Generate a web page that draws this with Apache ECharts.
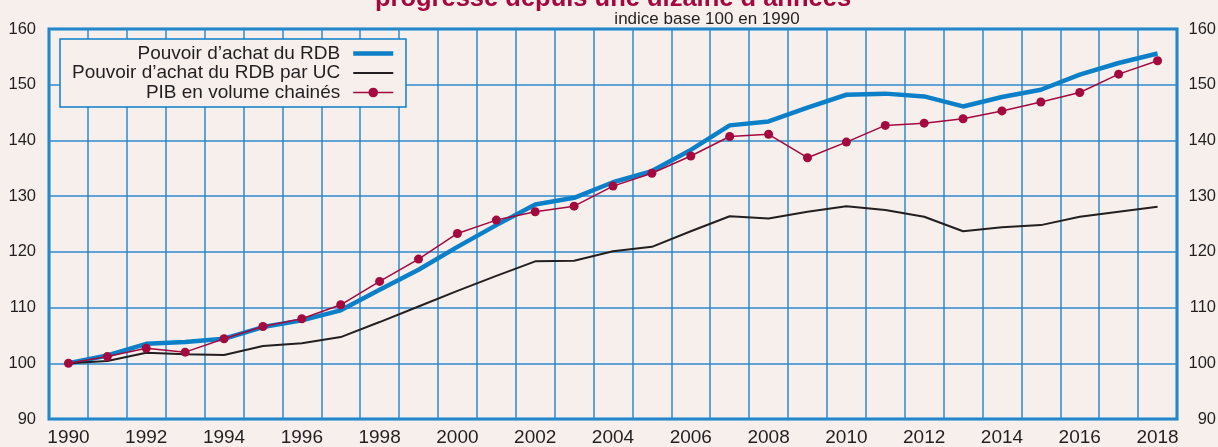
<!DOCTYPE html>
<html><head><meta charset="utf-8">
<script src="https://cdn.jsdelivr.net/npm/echarts@6/dist/echarts.min.js"></script>
<style>html,body{margin:0;padding:0;background:#f6efec}#c{width:1218px;height:447px}</style>
</head><body><div id="c"></div>
<script>
const years = ['1990','1991','1992','1993','1994','1995','1996','1997','1998','1999','2000','2001','2002','2003','2004','2005','2006','2007','2008','2009','2010','2011','2012','2013','2014','2015','2016','2017','2018'];
const rdb = [100, 101.4, 103.5, 103.8, 104.4, 106.5, 107.7, 109.5, 113.2, 116.8, 120.9, 124.8, 128.5, 129.7, 132.5, 134.5, 138.3, 142.7, 143.4, 145.9, 148.2, 148.4, 147.9, 146.1, 147.8, 149.1, 151.8, 153.9, 155.6];
const rdbUc = [100, 100.4, 101.9, 101.6, 101.5, 103.1, 103.6, 104.7, 107.4, 110.2, 113.0, 115.7, 118.3, 118.4, 120.1, 120.9, 123.7, 126.4, 126.0, 127.2, 128.2, 127.5, 126.3, 123.7, 124.4, 124.8, 126.3, 127.2, 128.1];
const pib = [100, 101.2, 102.7, 102.0, 104.4, 106.6, 108.0, 110.5, 114.7, 118.7, 123.3, 125.7, 127.2, 128.2, 131.8, 134.1, 137.2, 140.7, 141.1, 136.9, 139.7, 142.7, 143.1, 143.9, 145.3, 146.9, 148.6, 151.9, 154.3];
const seriesNames = ['Pouvoir d\u2019achat du RDB', 'Pouvoir d\u2019achat du RDB par UC', 'PIB en volume chain\u00e9s'];
const titleText = 'progresse depuis une dizaine d\u2019ann\u00e9es';
const subtitleText = 'indice base 100 en 1990';
const yMin = 90, yMax = 160, yStep = 10;

const FONT = '"Liberation Sans", Arial, Helvetica, sans-serif';
const BG = '#f6efec';
const BLUE = '#0b80c8';
const GRID = '#2e8acc';
const INK = '#231f20';
const RED = '#a3093e';

const chart = echarts.init(document.getElementById('c'), null, {renderer: 'canvas'});
const yAxisBase = {
  type: 'value', min: yMin, max: yMax, interval: yStep,
  axisLine: {show: false}, axisTick: {show: false}
};
chart.setOption({
  backgroundColor: BG,
  animation: false,
  textStyle: {fontFamily: FONT},
  graphic: [
    {type: 'text', x: 613, y: -1.2, silent: true,
     style: {text: titleText, font: 'bold 25.5px ' + FONT, fill: RED, align: 'center', verticalAlign: 'middle'}},
    {type: 'text', x: 707, y: 19, silent: true,
     style: {text: subtitleText, font: '17px ' + FONT, fill: INK, align: 'center', verticalAlign: 'middle'}}
  ],
  grid: {left: 49, right: 41, top: 29, bottom: 28, containLabel: false, outerBoundsMode: 'none',
         show: true, borderColor: BLUE, borderWidth: 3, backgroundColor: BG, z: 0},
  legend: {
    orient: 'vertical', align: 'right', left: 60, top: 39,
    padding: [5, 12, 5, 12], itemGap: 0.5, itemWidth: 40, itemHeight: 12,
    backgroundColor: BG, borderColor: BLUE, borderWidth: 1.5, borderRadius: 0,
    textStyle: {fontSize: 19, color: INK, fontFamily: FONT, padding: [0, 8, 0, 0]},
    data: [
      {name: seriesNames[0], icon: 'path://M0,0h40v4.5h-40z'},
      {name: seriesNames[1], icon: 'path://M0,0h40v2h-40z'},
      {name: seriesNames[2], lineStyle: {width: 1.5}}
    ],
    z: 10
  },
  xAxis: {
    type: 'category', data: years, boundaryGap: true,
    axisLine: {show: false}, axisTick: {show: false},
    axisLabel: {interval: 1, fontSize: 19, color: INK, margin: 9.5, fontFamily: FONT},
    splitLine: {show: true, interval: 0, lineStyle: {color: GRID, width: 1.5}}
  },
  yAxis: [
    Object.assign({}, yAxisBase, {
      position: 'left',
      axisLabel: {fontSize: 16.5, color: INK, margin: 13, fontFamily: FONT},
      splitLine: {show: true, lineStyle: {color: GRID, width: 1.5}}
    }),
    Object.assign({}, yAxisBase, {
      position: 'right',
      axisLabel: {fontSize: 16.5, color: INK, margin: 39, align: 'right', fontFamily: FONT},
      splitLine: {show: false}
    })
  ],
  series: [
    {name: seriesNames[0], type: 'line', data: rdb, symbol: 'none', showSymbol: false,
     lineStyle: {color: BLUE, width: 4.5}, itemStyle: {color: BLUE}, z: 3},
    {name: seriesNames[1], type: 'line', data: rdbUc, symbol: 'none', showSymbol: false,
     lineStyle: {color: INK, width: 2}, itemStyle: {color: INK}, z: 3},
    {name: seriesNames[2], type: 'line', data: pib, symbol: 'circle', symbolSize: 9,
     lineStyle: {color: RED, width: 1.5}, itemStyle: {color: RED}, z: 4}
  ]
});
</script>
</body></html>
